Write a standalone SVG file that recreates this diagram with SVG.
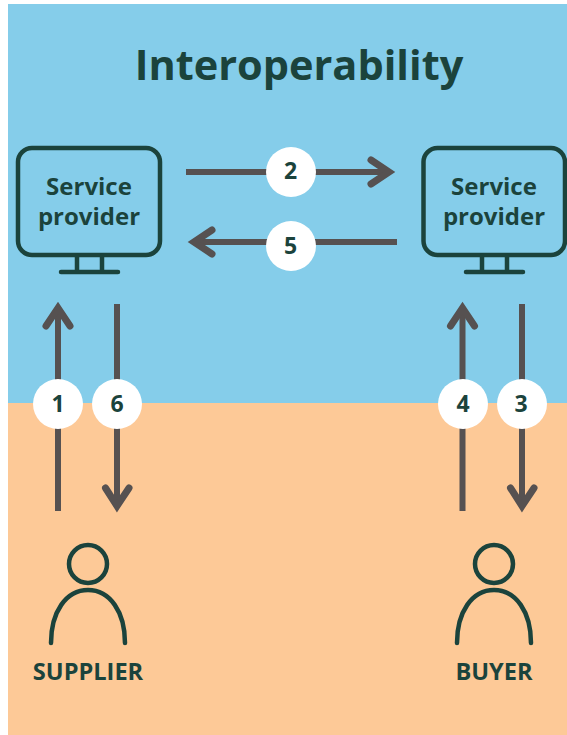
<svg xmlns="http://www.w3.org/2000/svg" width="567" height="735" viewBox="0 0 567 735">
<style>
.ic{fill:none;stroke:#1b433c;stroke-width:4.500;stroke-linecap:round;stroke-linejoin:round}
.t{font-family:"Open Sans","Noto Sans",sans-serif;font-weight:700;fill:#1b433c;text-anchor:middle}
.sp{font-size:24px}
.lb{font-size:23px}
.cn{stroke:#565151;stroke-width:6;fill:none}
.ah{stroke:#565151;stroke-width:7;fill:none;stroke-linecap:round;stroke-linejoin:miter}
.c{fill:#fff}
</style>
<rect width="567" height="735" fill="#fff"/>
<rect x="8" y="4" width="559" height="399" fill="#85cdea"/>
<rect x="8" y="403" width="559" height="332" fill="#fdc997"/>
<text class="t" x="299" y="80" font-size="41.5">Interoperability</text>
<g id="connectors">
<path class="cn" d="M186 172H390"/><path class="ah" d="M371 160L389 172L371 184"/>
<path class="cn" d="M397 242H195"/><path class="ah" d="M212 230L194 242L212 254"/>
<path class="cn" d="M58 511V309"/><path class="ah" d="M46 326L58 308L70 326"/>
<path class="cn" d="M117 304V505"/><path class="ah" d="M105.500 488L117 506L129 488"/>
<path class="cn" d="M462.500 511V309"/><path class="ah" d="M450.500 326L462.500 308L474.500 326"/>
<path class="cn" d="M522 304V505"/><path class="ah" d="M510.500 488L522 506L534 488"/>
</g>
<g id="badge-2"><circle class="c" cx="291" cy="172" r="25"/><text class="t lb" x="290.500" y="179">2</text></g>
<g id="badge-5"><circle class="c" cx="291" cy="246" r="25"/><text class="t lb" x="290.500" y="254">5</text></g>
<g id="badge-1"><circle class="c" cx="58" cy="404" r="25"/><text class="t lb" x="58" y="412">1</text></g>
<g id="badge-6"><circle class="c" cx="117" cy="404" r="25"/><text class="t lb" x="117" y="412">6</text></g>
<g id="badge-4"><circle class="c" cx="463" cy="404" r="25"/><text class="t lb" x="463" y="412">4</text></g>
<g id="badge-3"><circle class="c" cx="522" cy="404" r="25"/><text class="t lb" x="521" y="412">3</text></g>
<g id="provider-left">
<rect class="ic" x="18" y="148" width="142" height="107" rx="14"/>
<path class="ic" d="M77 256V272M102 256V272M61 272H118"/>
<text class="t sp" x="89" y="195">Service</text><text class="t sp" x="89" y="225">provider</text>
</g>
<g id="provider-right">
<rect class="ic" x="423.500" y="148" width="141.500" height="107" rx="14"/>
<path class="ic" d="M482 256V272M507 256V272M466 272H523"/>
<text class="t sp" x="494" y="195">Service</text><text class="t sp" x="494" y="225">provider</text>
</g>
<g id="supplier">
<circle class="ic" cx="88" cy="564" r="19"/>
<path class="ic" d="M51 643C51 612 66 590 88 590C110 590 125 612 125 643"/>
<text class="t" x="88" y="680" font-size="23.600">SUPPLIER</text>
</g>
<g id="buyer">
<circle class="ic" cx="494" cy="564" r="19"/>
<path class="ic" d="M457 643C457 612 472 590 494 590C516 590 531 612 531 643"/>
<text class="t" x="494" y="680" font-size="23.600">BUYER</text>
</g>
</svg>
